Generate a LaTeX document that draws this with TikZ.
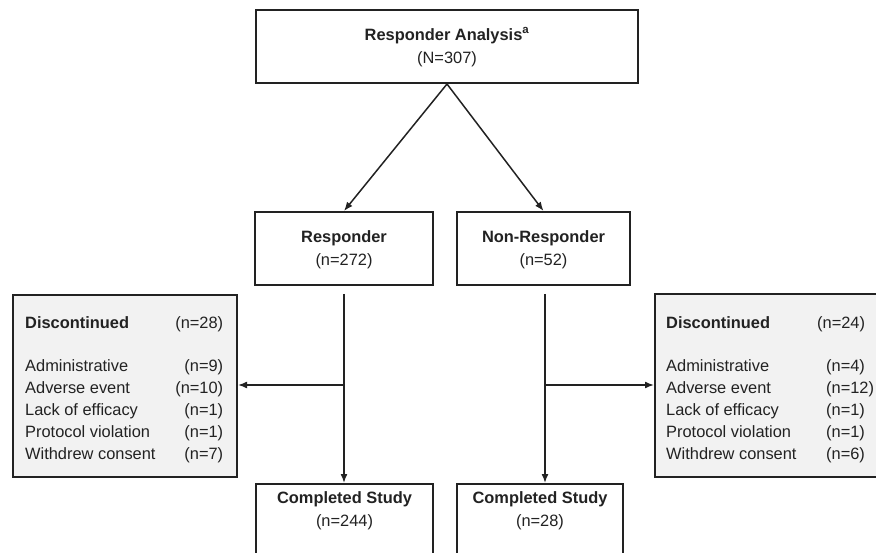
\documentclass[tikz,border=0pt]{standalone}
\usepackage{fontspec}
\setmainfont{Liberation Sans}
\usetikzlibrary{arrows.meta}
\definecolor{ink}{HTML}{222222}
\definecolor{boxgray}{HTML}{F2F2F2}
\begin{document}
\begin{tikzpicture}[x=1pt,y=-1pt,
  every node/.style={text=ink, font=\fontsize{16.4}{23}\selectfont},
  box/.style={draw=ink, line width=2pt, fill=white, inner sep=0pt},
  sidebox/.style={box, fill=boxgray},
  lbl/.style={align=center, inner sep=0pt},
  arr/.style={draw=ink, line width=1.5pt, -{Latex[length=9pt,width=7pt]}},
  ln/.style={draw=ink, line width=1.5pt}]
\useasboundingbox (0,0) rectangle (876,553);
\clip (0,0) rectangle (876,553);

% top box
\node[box, minimum width=382pt, minimum height=73pt] (top) at (447,46.5) {};
\node[lbl] (topt) at (447,47) {\textbf{Responder Analysis\textsuperscript{a}}\\(N=307)};

% second row
\node[box, minimum width=178pt, minimum height=73pt] (resp) at (344,248.5) {};
\node[lbl] (respt) at (344,249.5) {\textbf{Responder}\\(n=272)};
\node[box, minimum width=173pt, minimum height=73pt] (nresp) at (543.5,248.5) {};
\node[lbl] (nrespt) at (543.5,249.5) {\textbf{Non-Responder}\\(n=52)};

% completed boxes
\node[box, minimum width=177pt, minimum height=100pt, anchor=north] (comp1) at (344.5,483) {};
\node[lbl] (comp1t) at (344.5,511) {\textbf{Completed Study}\\(n=244)};
\node[box, minimum width=166pt, minimum height=100pt, anchor=north] (comp2) at (540,483) {};
\node[lbl] (comp2t) at (540,511) {\textbf{Completed Study}\\(n=28)};

% discontinued boxes
\node[sidebox, minimum width=224pt, minimum height=182pt] (disc1) at (125,386) {};
\node[inner sep=0pt, anchor=north west, font=\fontsize{16.4}{22}\selectfont] (disc1t) at (25,312.6) {%
  \begin{tabular*}{198pt}{@{}l@{\extracolsep{\fill}}r@{}}
  \textbf{Discontinued} & (n=28)\\[21pt]
  Administrative & (n=9)\\
  Adverse event & (n=10)\\
  Lack of efficacy & (n=1)\\
  Protocol violation & (n=1)\\
  Withdrew consent & (n=7)
  \end{tabular*}};
\node[sidebox, minimum width=240pt, minimum height=182pt, anchor=west] (disc2) at (654,385.5) {};
\node[inner sep=0pt, anchor=north west, font=\fontsize{16.4}{22}\selectfont] (disc2t) at (666,312.6) {%
  \begin{tabular}{@{}p{160pt}@{}l@{}}
  \textbf{Discontinued} & \hspace*{-9pt}(n=24)\\[21pt]
  Administrative & (n=4)\\
  Adverse event & (n=12)\\
  Lack of efficacy & (n=1)\\
  Protocol violation & (n=1)\\
  Withdrew consent & (n=6)
  \end{tabular}};

% connectors
\draw[arr] (top.south) -- (resp.north);
\draw[arr] (top.south) -- (nresp.north);
\coordinate (v1) at ([yshift=-8pt]resp.south);
\coordinate (v2) at ([yshift=-8pt,xshift=1.5pt]nresp.south);
\draw[arr] (v1) -- (v1 |- comp1.north);
\draw[arr] (v2) -- (v2 |- comp2.north);
\draw[arr] (v1 |- 0,385) -- (disc1.east |- 0,385);
\draw[arr] (v2 |- 0,385) -- (disc2.west |- 0,385);
\end{tikzpicture}
\end{document}
